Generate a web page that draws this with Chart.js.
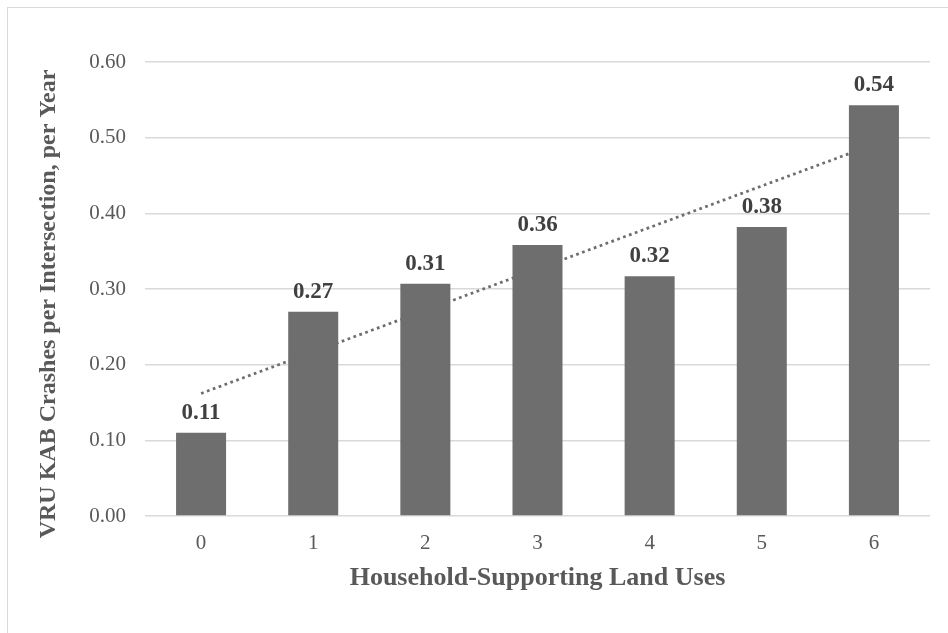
<!DOCTYPE html>
<html>
<head>
<meta charset="utf-8">
<script src="https://cdn.jsdelivr.net/npm/chart.js@4.4.1/dist/chart.umd.min.js"></script>
<style>
  body { margin: 0; background: #fff; overflow: hidden; }
  #frame { position: absolute; left: 7px; top: 7px; width: 1000px; height: 700px; border: 1.5px solid #d9d9d9; }
</style>
</head>
<body>
<div id="frame"></div>
<canvas id="crashChart" width="948" height="633" style="position:absolute;left:0;top:0"></canvas>
<script>
var landUses = ['0', '1', '2', '3', '4', '5', '6'];
var crashRates = [0.11, 0.27, 0.307, 0.358, 0.317, 0.382, 0.543];
// dotted linear trend, ends
var trendValues = [0.162, null, null, null, null, null, 0.491];
var yTicks = [0, 0.1, 0.2, 0.3, 0.4, 0.5, 0.6];

var serif = "'Liberation Serif', 'Times New Roman', serif";

var valueLabels = {
  id: 'valueLabels',
  afterDatasetsDraw: function(chart) {
    var ctx = chart.ctx;
    var meta = chart.getDatasetMeta(0);
    ctx.save();
    ctx.font = 'bold 23px ' + serif;
    ctx.fillStyle = '#404040';
    ctx.textAlign = 'center';
    ctx.textBaseline = 'alphabetic';
    meta.data.forEach(function(bar, i) {
      ctx.fillText(crashRates[i].toFixed(2), bar.x, bar.y - 14);
    });
    ctx.restore();
  }
};

var yTitle = {
  id: 'yTitle',
  afterDraw: function(chart) {
    var ctx = chart.ctx;
    ctx.save();
    ctx.translate(49, 304);
    ctx.rotate(-Math.PI / 2);
    ctx.font = 'bold 24px ' + serif;
    ctx.fillStyle = '#595959';
    ctx.textAlign = 'center';
    ctx.textBaseline = 'middle';
    ctx.fillText('VRU KAB Crashes per Intersection, per Year', 0, 0);
    ctx.restore();
  }
};

var ctx = document.getElementById('crashChart');
var crashChart = new Chart(ctx, {
  type: 'bar',
  data: {
    labels: landUses,
    datasets: [{
      type: 'bar',
      data: crashRates,
      backgroundColor: '#6e6e6e',
      barPercentage: 0.446,
      categoryPercentage: 1,
      order: 0
    }, {
      type: 'line',
      data: trendValues,
      spanGaps: true,
      borderColor: '#6e6e6e',
      borderWidth: 2.75,
      borderDash: [2.75, 3.5],
      pointRadius: 0,
      fill: false,
      order: 1
    }]
  },
  options: {
    responsive: false,
    animation: false,
    layout: { padding: { top: 62, right: 18, bottom: 0, left: 0 } },
    plugins: {
      legend: { display: false },
      tooltip: { enabled: false }
    },
    scales: {
      x: {
        grid: { display: false },
        border: { display: false },
        ticks: { color: '#595959', font: { family: serif, size: 21 }, padding: 7 },
        title: {
          display: true,
          text: 'Household-Supporting Land Uses',
          color: '#595959',
          font: { family: serif, size: 26, weight: 'bold' },
          padding: { top: 0, bottom: 39 }
        },
        afterFit: function(scale) { scale.height = 117; }
      },
      y: {
        min: 0,
        max: 0.6,
        grid: { color: '#d9d9d9', lineWidth: 1.5, drawTicks: false },
        border: { display: false },
        afterBuildTicks: function(scale) {
          scale.ticks = yTicks.map(function(v) { return { value: v }; });
        },
        ticks: {
          color: '#595959',
          font: { family: serif, size: 21 },
          padding: 19,
          callback: function(v) { return Number(v).toFixed(2); }
        },
        afterFit: function(scale) { scale.width = 145; }
      }
    }
  },
  plugins: [valueLabels, yTitle]
});
</script>
</body>
</html>
